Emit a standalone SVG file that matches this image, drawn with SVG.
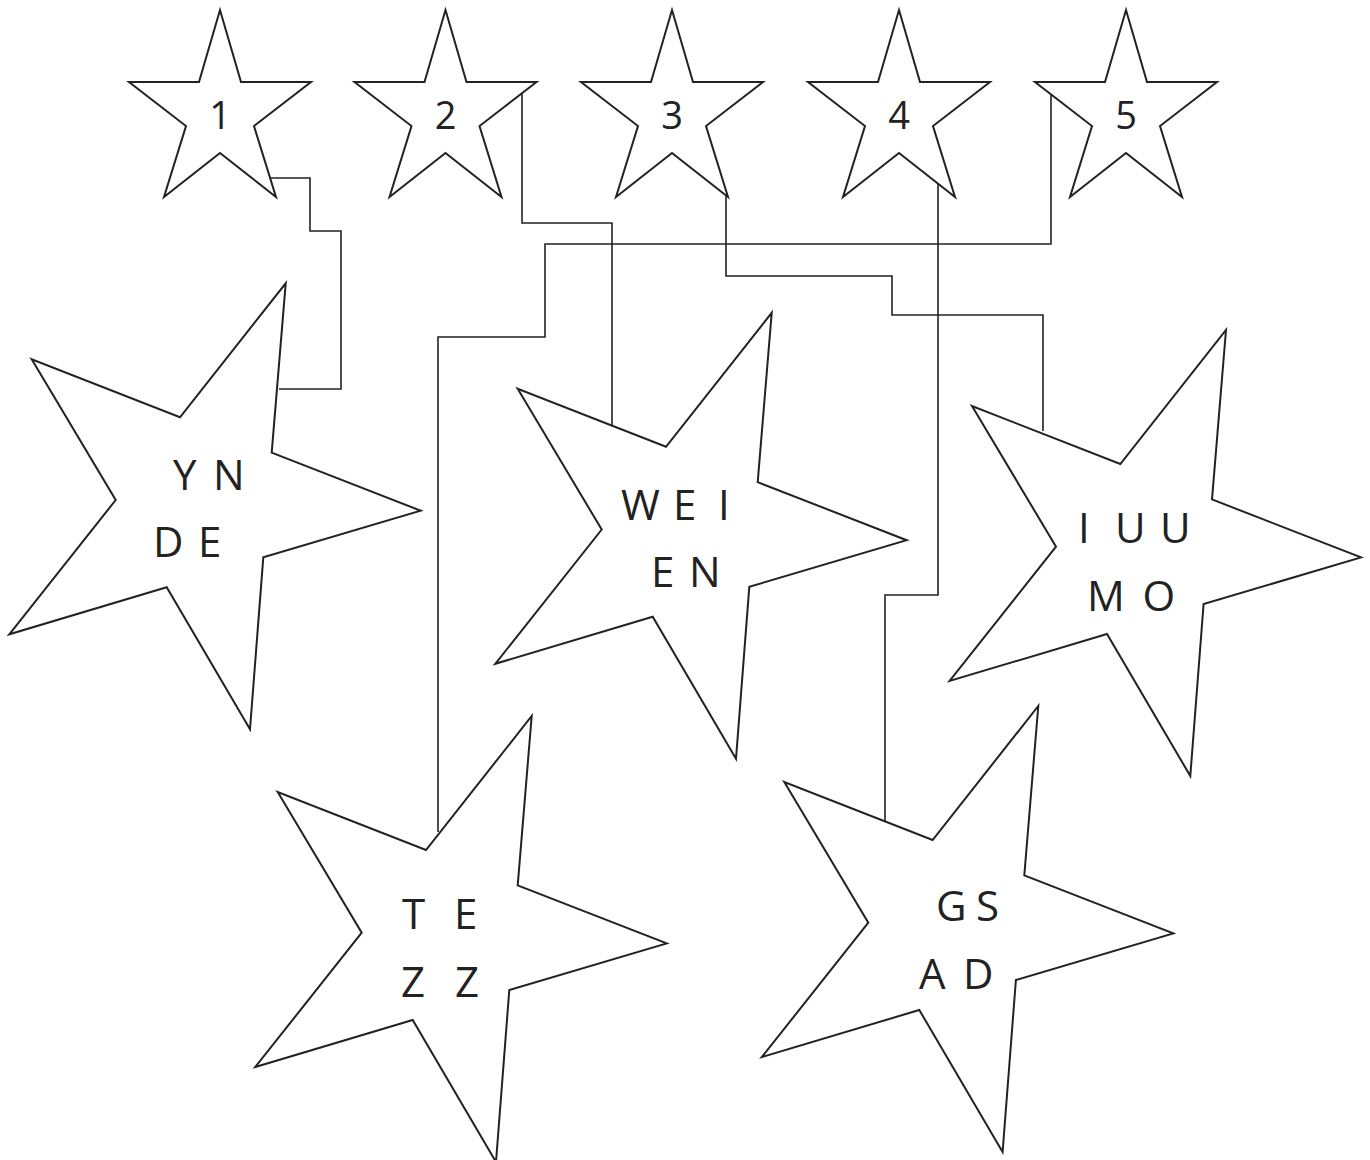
<svg xmlns="http://www.w3.org/2000/svg" xmlns:xlink="http://www.w3.org/1999/xlink" width="1370" height="1160" viewBox="0 0 1370 1160">
<style>
.star{fill:#ffffff;stroke:#222222;stroke-width:2;stroke-linejoin:miter}
.conn{fill:none;stroke:#222222;stroke-width:1.6}
.num{font-family:"Open Sans","Noto Sans",sans-serif;font-size:38px;fill:#222222;text-anchor:middle}
.lbl{font-family:"Open Sans","Noto Sans",sans-serif;font-size:42px;fill:#222222}
</style>
<defs>
<polygon id="small" points="0,10 21,82 91,82 34,126 56,197 0,153 -56,197 -34,126 -91,82 -21,82"/>
<polygon id="big" points="285.7,283.3 271.7,452.7 420.7,510.7 263.3,557.3 250,729.3 166.7,587.3 9.3,634.3 115.7,500 31.7,359.3 180,417.3"/>
</defs>
<rect width="1370" height="1160" fill="#ffffff"/>
<g id="connectors">
<polyline class="conn" points="271,178 310,178 310,231 341,231 341,389 279,389"/>
<polyline class="conn" points="522,93 522,223 612,223 612,425"/>
<polyline class="conn" points="726,196 726,276 892,276 892,315 1043,315 1043,431"/>
<polyline class="conn" points="938,183 938,595 885,595 885,822"/>
<polyline class="conn" points="1051,94 1051,244 545,244 545,337 438,337 438,832"/>
</g>
<g id="s1"><use xlink:href="#small" href="#small" class="star" transform="translate(220,0)"/><text class="num" x="220" y="129">1</text></g>
<g id="s2"><use xlink:href="#small" href="#small" class="star" transform="translate(445.5,0)"/><text class="num" x="445.5" y="129">2</text></g>
<g id="s3"><use xlink:href="#small" href="#small" class="star" transform="translate(672,0)"/><text class="num" x="672" y="129">3</text></g>
<g id="s4"><use xlink:href="#small" href="#small" class="star" transform="translate(899,0)"/><text class="num" x="899" y="129">4</text></g>
<g id="s5"><use xlink:href="#small" href="#small" class="star" transform="translate(1126,0)"/><text class="num" x="1126" y="129">5</text></g>
<g id="ynde"><use xlink:href="#big" href="#big" class="star"/>
<text class="lbl" x="173 195 213" y="490">Y N</text>
<text class="lbl" x="153 180 198" y="557">D E</text></g>
<g id="weien"><use xlink:href="#big" href="#big" class="star" transform="translate(486,29.5)"/>
<text class="lbl" x="621 660 673 705 718" y="520">W E I</text>
<text class="lbl" x="651 680 689" y="587">E N</text></g>
<g id="iuumo"><use xlink:href="#big" href="#big" class="star" transform="translate(940.3,46.7)"/>
<text class="lbl" x="1078 1100 1115 1145 1160" y="543">I U U</text>
<text class="lbl" x="1087 1130 1142.5" y="611">M O</text></g>
<g id="tezz"><use xlink:href="#big" href="#big" class="star" transform="translate(246,432.7)"/>
<text class="lbl" x="402 440 454" y="929">T E</text>
<text class="lbl" x="401 440 455" y="997">Z Z</text></g>
<g id="gsad"><use xlink:href="#big" href="#big" class="star" transform="translate(752.6,422.7)"/>
<text class="lbl" x="936 965 976" y="921">G S</text>
<text class="lbl" x="919 950 963" y="989">A D</text></g>
</svg>
